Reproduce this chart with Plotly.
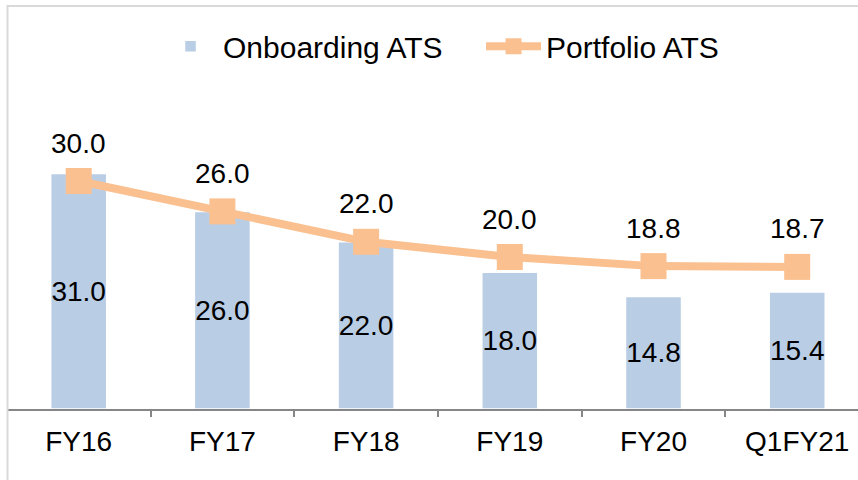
import plotly.graph_objects as go

categories = ["FY16", "FY17", "FY18", "FY19", "FY20", "Q1FY21"]
onboarding_ats = [31.0, 26.0, 22.0, 18.0, 14.8, 15.4]
portfolio_ats = [30.0, 26.0, 22.0, 20.0, 18.8, 18.7]

BAR_COLOR = "#B9CDE5"
LINE_COLOR = "#FAC090"
FONT = "Liberation Sans, Arial, sans-serif"
FS = 28

fig = go.Figure()
fig.add_trace(go.Bar(
    x=categories, y=onboarding_ats, name="Onboarding ATS",
    marker=dict(color=BAR_COLOR, line=dict(color="white", width=1.5)),
    width=0.39,
    text=[f"{v:.1f}" for v in onboarding_ats],
    textposition="inside", insidetextanchor="middle", constraintext="none",
    textangle=0,
    textfont=dict(family=FONT, size=FS, color="black"),
))
fig.add_trace(go.Scatter(
    x=categories, y=portfolio_ats, name="Portfolio ATS",
    mode="lines+markers",
    line=dict(color=LINE_COLOR, width=8),
    marker=dict(symbol="square", size=26, color=LINE_COLOR),
))

for c, v in zip(categories, portfolio_ats):
    fig.add_annotation(x=c, y=v, text=f"{v:.1f}", showarrow=False,
                       yanchor="middle", yshift=38,
                       font=dict(family=FONT, size=FS, color="black"))

# outer chart border
fig.add_shape(type="rect", xref="paper", yref="paper",
              x0=-0.0006, x1=1.2, y0=-0.5, y1=1.3257,
              line=dict(color="#D9D9D9", width=2), fillcolor="rgba(0,0,0,0)")

fig.update_layout(
    width=858, height=480,
    margin=dict(l=8, r=0, t=105, b=71),
    paper_bgcolor="white", plot_bgcolor="white",
    font=dict(family=FONT, size=FS, color="black"),
    showlegend=True,
    legend=dict(orientation="h", x=0.5565, xanchor="center", y=1.193, yanchor="middle",
                font=dict(family=FONT, size=30, color="black"), itemwidth=55,
                entrywidth=253, entrywidthmode="pixels",
                bgcolor="rgba(0,0,0,0)"),
    bargap=0.61,
    xaxis=dict(type="category", range=[-0.492, 5.423], showline=True,
               linecolor="#868686", linewidth=1.5, ticks="outside", tickson="boundaries",
               ticklen=6, tickcolor="#868686", tickwidth=1.5, showgrid=False,
               ticklabelstandoff=7,
               tickfont=dict(family=FONT, size=FS, color="black"), fixedrange=True),
    yaxis=dict(range=[0, 40], visible=False, showgrid=False, zeroline=False, fixedrange=True),
)

fig.write_html("out.html", config={"displayModeBar": False},
               post_script="document.body.style.margin='0';document.body.style.overflow='hidden';")
